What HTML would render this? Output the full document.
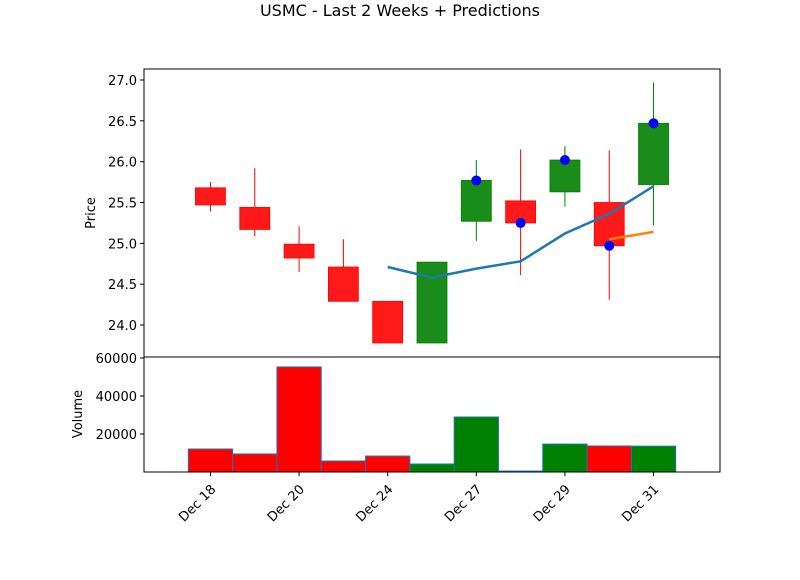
<!DOCTYPE html>
<html><head><meta charset="utf-8"><style>
body{margin:0;background:#fff;font-family:"Liberation Sans","DejaVu Sans",sans-serif}
svg text{font-family:"DejaVu Sans","Liberation Sans",sans-serif;font-size:13px;fill:#000}
</style></head><body>
<svg id="c" width="800" height="575">
<text x="400" y="16" text-anchor="middle" font-size="16" style="font-size:16px">USMC - Last 2 Weeks + Predictions</text>
<g id="price"></g>
<g id="vol"></g>
</svg>
<script>
const categories=["Dec 18","Dec 19","Dec 20","Dec 21","Dec 24","Dec 26","Dec 27","Dec 28","Dec 29","Dec 30","Dec 31"];
const opens=[25.68,25.44,24.99,24.71,24.29,23.78,25.27,25.52,25.63,25.50,25.72];
const closes=[25.47,25.17,24.82,24.29,23.78,24.77,25.77,25.25,26.02,24.97,26.47];
const highs=[25.75,25.92,25.21,25.05,24.29,24.77,26.02,26.15,26.19,26.14,26.97];
const lows=[25.39,25.09,24.65,24.29,23.78,23.78,25.03,24.61,25.45,24.31,25.22];
const volumes=[12100,9500,55300,5800,8400,4200,28950,500,14700,13700,13600];
const dotIdx=[6,7,8,9,10];
const dotVals=[25.77,25.25,26.02,24.97,26.47];
const blueIdx=[4,5,6,7,8,9,10];
const blueVals=[24.71,24.58,24.69,24.78,25.12,25.36,25.70];
const orangeIdx=[9,10];
const orangeVals=[25.05,25.14];
const priceTicks=[24.0,24.5,25.0,25.5,26.0,26.5,27.0];
const volTicks=[20000,40000,60000];
const xTickIdx=[0,2,4,6,8,10];
const NS="http://www.w3.org/2000/svg";
const L=144,R=720,PT=69,PB=357,VT=357,VB=472;
const x=i=>L+(i+1.5)*(R-L)/13;
const yp=p=>80+(27-p)*81.67;
const yv=v=>VB-v*(VB-358)/60000;
function mk(t,a,parent){const e=document.createElementNS(NS,t);for(const k in a)e.setAttribute(k,a[k]);parent.appendChild(e);return e;}
const P=document.getElementById('price'),V=document.getElementById('vol');
const step=(R-L)/13;
for(let i=0;i<categories.length;i++){
  const up=closes[i]>=opens[i];const col=up?'#007f00':'#ff0000';
  const t=yp(Math.max(opens[i],closes[i])),b=yp(Math.min(opens[i],closes[i]));
  const w=mk('line',{x1:x(i),x2:x(i),y1:yp(highs[i]),y2:t,stroke:col,'stroke-width':1},P);
  
  
  const w2=mk('line',{x1:x(i),x2:x(i),y1:b,y2:yp(lows[i]),stroke:col,'stroke-width':1},P);
  
  
  const r=mk('rect',{x:x(i)-15,y:t,width:30,height:Math.max(b-t,0.5),fill:col,'fill-opacity':0.9,stroke:col,'stroke-width':0.8},P);
  
  
  const vb=mk('rect',{x:x(i)-step/2,y:yv(volumes[i]),width:step,height:VB-yv(volumes[i]),fill:up?'#008000':'#ff0000',stroke:'#1f77b4','stroke-width':1},V);
  
  
}
const bl=mk('polyline',{points:blueIdx.map((d,k)=>x(d)+','+yp(blueVals[k])).join(' '),fill:'none',stroke:'#1f77b4','stroke-width':2.5},P);


const ol=mk('polyline',{points:orangeIdx.map((d,k)=>x(d)+','+yp(orangeVals[k])).join(' '),fill:'none',stroke:'#ff7f0e','stroke-width':2.5},P);


dotIdx.forEach((d,k)=>{const c=mk('circle',{cx:x(d),cy:yp(dotVals[k]),r:5,fill:'#0000ff'},P);

});
const f1=mk('rect',{x:L,y:PT,width:R-L,height:PB-PT,fill:'none',stroke:'#000','stroke-width':1},P);


const f2=mk('rect',{x:L,y:VT,width:R-L,height:VB-VT,fill:'none',stroke:'#000','stroke-width':1},V);


priceTicks.forEach(p=>{mk('line',{x1:L-4,x2:L,y1:yp(p),y2:yp(p),stroke:'#000'},P);
const t=mk('text',{x:L-7,y:yp(p)+5,'text-anchor':'end'},P);t.textContent=p.toFixed(1);

});
volTicks.forEach(v=>{mk('line',{x1:L-4,x2:L,y1:yv(v),y2:yv(v),stroke:'#000'},V);
const t=mk('text',{x:L-7,y:yv(v)+5,'text-anchor':'end'},V);t.textContent=v;

});
xTickIdx.forEach(i=>{mk('line',{x1:x(i),x2:x(i),y1:VB,y2:VB+4,stroke:'#000'},V);
const t=mk('text',{x:x(i)+6,y:VB+18,'text-anchor':'end',transform:`rotate(-45 ${x(i)+6} ${VB+18})`},V);t.textContent=categories[i];

});
const yl=mk('text',{x:95,y:213,'text-anchor':'middle',transform:'rotate(-90 95 213)'},P);yl.textContent='Price';


const vl=mk('text',{x:82,y:414,'text-anchor':'middle',transform:'rotate(-90 82 414)'},V);vl.textContent='Volume';


</script>
</body></html>
